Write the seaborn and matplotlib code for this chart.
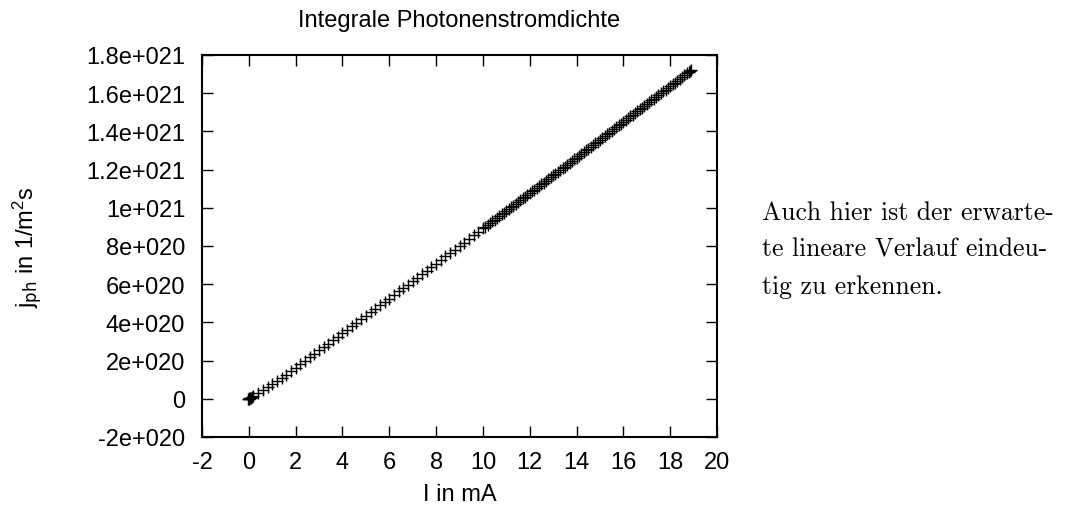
import matplotlib
matplotlib.use("Agg")
import matplotlib.pyplot as plt
import seaborn as sns
import pandas as pd

# current I in mA
current_mA = [
    -0.05, 0.0, 0.0, 0.02, 0.05, 0.08, 0.12,
    0.2, 0.4, 0.6, 0.8, 1.0, 1.2, 1.4, 1.6, 1.8, 2.0,
    2.2, 2.4, 2.6, 2.8, 3.0, 3.2, 3.4, 3.6, 3.8, 4.0,
    4.2, 4.4, 4.6, 4.8, 5.0, 5.2, 5.4, 5.6, 5.8, 6.0,
    6.2, 6.4, 6.6, 6.8, 7.0, 7.2, 7.4, 7.6, 7.8, 8.0,
    8.2, 8.4, 8.6, 8.8, 9.0, 9.2, 9.4, 9.6, 9.8, 10.0,
    10.1, 10.2, 10.3, 10.4, 10.5, 10.6, 10.7, 10.8, 10.9, 11.0,
    11.1, 11.2, 11.3, 11.4, 11.5, 11.6, 11.7, 11.8, 11.9, 12.0,
    12.1, 12.2, 12.3, 12.4, 12.5, 12.6, 12.7, 12.8, 12.9, 13.0,
    13.1, 13.2, 13.3, 13.4, 13.5, 13.6, 13.7, 13.8, 13.9, 14.0,
    14.1, 14.2, 14.3, 14.4, 14.5, 14.6, 14.7, 14.8, 14.9, 15.0,
    15.1, 15.2, 15.3, 15.4, 15.5, 15.6, 15.7, 15.8, 15.9, 16.0,
    16.1, 16.2, 16.3, 16.4, 16.5, 16.6, 16.7, 16.8, 16.9, 17.0,
    17.1, 17.2, 17.3, 17.4, 17.5, 17.6, 17.7, 17.8, 17.9, 18.0,
    18.1, 18.2, 18.3, 18.4, 18.5, 18.6, 18.7, 18.8, 18.85, 18.9,
]

# photon flux density in units of 1e20 1/(m^2 s)
flux_e20 = [
    0.0, 0.0, -0.03, 0.02, 0.03, 0.05, 0.08,
    0.14, 0.29, 0.44, 0.60, 0.76, 0.93, 1.10, 1.27, 1.45, 1.63,
    1.81, 1.99, 2.17, 2.35, 2.53, 2.71, 2.89, 3.07, 3.25, 3.43,
    3.61, 3.79, 3.97, 4.16, 4.34, 4.52, 4.70, 4.89, 5.07, 5.25,
    5.43, 5.62, 5.80, 5.98, 6.16, 6.35, 6.53, 6.71, 6.90, 7.08,
    7.26, 7.45, 7.63, 7.81, 8.00, 8.18, 8.36, 8.55, 8.73, 8.92,
    9.01, 9.10, 9.20, 9.29, 9.38, 9.47, 9.57, 9.66, 9.75, 9.84,
    9.94, 10.03, 10.12, 10.21, 10.31, 10.40, 10.49, 10.58, 10.68, 10.77,
    10.86, 10.95, 11.05, 11.14, 11.23, 11.32, 11.42, 11.51, 11.61, 11.70,
    11.79, 11.88, 11.98, 12.07, 12.16, 12.25, 12.35, 12.44, 12.54, 12.63,
    12.72, 12.81, 12.91, 13.00, 13.10, 13.19, 13.28, 13.37, 13.47, 13.56,
    13.66, 13.75, 13.84, 13.93, 14.03, 14.12, 14.22, 14.31, 14.41, 14.50,
    14.59, 14.68, 14.78, 14.87, 14.97, 15.06, 15.16, 15.25, 15.34, 15.43,
    15.53, 15.62, 15.72, 15.81, 15.91, 16.00, 16.09, 16.18, 16.28, 16.37,
    16.47, 16.56, 16.66, 16.75, 16.85, 16.94, 17.04, 17.13, 17.18, 17.22,
]

x_ticks = [-2, 0, 2, 4, 6, 8, 10, 12, 14, 16, 18, 20]
y_ticks_e20 = [-2, 0, 2, 4, 6, 8, 10, 12, 14, 16, 18]
y_tick_labels = ["-2e+020", "0", "2e+020", "4e+020", "6e+020", "8e+020",
                 "1e+021", "1.2e+021", "1.4e+021", "1.6e+021", "1.8e+021"]

title = "Integrale Photonenstromdichte"
xlabel = "I in mA"
ylabel = r"j$_{\mathrm{ph}}$ in 1/m$^2$s"
side_text = ["Auch hier ist der erwarte-",
             "te lineare Verlauf eindeu-",
             "tig zu erkennen."]

sns.set_theme(style="ticks")
plt.rcParams["font.family"] = ["Liberation Sans", "DejaVu Sans"]
plt.rcParams["mathtext.default"] = "regular"
plt.rcParams["text.color"] = "black"
plt.rcParams["axes.labelcolor"] = "black"
plt.rcParams["axes.titlecolor"] = "black"

df = pd.DataFrame({"I": current_mA, "j": [v * 1e20 for v in flux_e20]})

fig = plt.figure(figsize=(10.67, 5.10), dpi=100)
ax = fig.add_axes([0.1893, 0.1412, 0.4827, 0.7490])

sns.scatterplot(data=df, x="I", y="j", marker="+", color="black",
                s=65, linewidth=1.0, ax=ax, legend=False)

ax.set_xlim(-2, 20)
ax.set_ylim(-2e20, 1.8e21)
ax.set_xticks(x_ticks)
ax.set_xticklabels([str(t) for t in x_ticks])
ax.set_yticks([v * 1e20 for v in y_ticks_e20])
ax.set_yticklabels(y_tick_labels)

for s in ax.spines.values():
    s.set_visible(True)
    s.set_linewidth(1.5)
    s.set_color("black")

ax.tick_params(direction="in", length=8, width=1.0, top=True, right=True,
               labelsize=17, colors="black")
ax.tick_params(axis="y", pad=12)
ax.tick_params(axis="x", pad=10)
ax.set_title(title, fontsize=17, pad=0, y=1.0 + 29 / 382, color="black")
ax.set_xlabel(xlabel, fontsize=17, color="black")
ax.set_ylabel(ylabel, fontsize=17, color="black")
ax.xaxis.set_label_coords(0.5, -(484 - 438) / 382)
ax.yaxis.set_label_coords(-(202 - 44) / 515, 0.5)

for i, line in enumerate(side_text):
    fig.text(762 / 1067, 1 - (213 + 37 * i) / 510, line,
             family="cmr10", fontsize=18.5, va="center", ha="left", color="black")

fig.savefig("out.png", dpi=100)
